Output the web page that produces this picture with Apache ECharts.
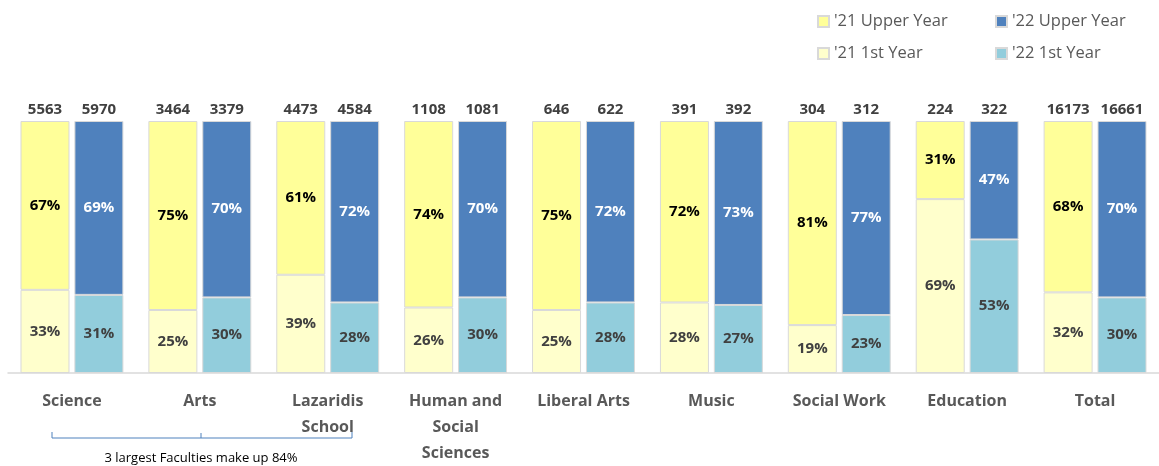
<!DOCTYPE html>
<html>
<head>
<meta charset="utf-8">
<script src="https://cdn.jsdelivr.net/npm/echarts@6/dist/echarts.min.js"></script>
<style>
html,body{margin:0;padding:0;background:#fff;}
#c{width:1159px;height:466px;}
</style>
</head>
<body>
<div id="c"></div>
<script>
const categories = ['Science', 'Arts', 'Lazaridis\nSchool', 'Human and\nSocial\nSciences', 'Liberal Arts', 'Music', 'Social Work', 'Education', 'Total'];
const first21 = [33, 25, 39, 26, 25, 28, 19, 69, 32];
const upper21 = [67, 75, 61, 74, 75, 72, 81, 31, 68];
const first22 = [31, 30, 28, 30, 28, 27, 23, 53, 30];
const upper22 = [69, 70, 72, 70, 72, 73, 77, 47, 70];
const totals21 = [5563, 3464, 4473, 1108, 646, 391, 304, 224, 16173];
const totals22 = [5970, 3379, 4584, 1081, 622, 392, 312, 322, 16661];

const FONT = '"Open Sans", "Liberation Sans", sans-serif';
const C_UP21 = '#FFFF99', C_1ST21 = '#FFFFCC', C_UP22 = '#4F81BD', C_1ST22 = '#92CDDC';

const chart = echarts.init(document.getElementById('c'));

function pctLabel(color) {
  return { show: true, position: 'inside', formatter: '{c}%', color: color, fontFamily: FONT, fontWeight: 'bold', fontSize: 15 };
}
function totalSeries(stack, arr) {
  return {
    type: 'bar', stack: stack, name: 'tot' + stack, data: arr.map(() => 0), barWidth: 49, barGap: '10%',
    itemStyle: { color: 'transparent', borderWidth: 0 },
    label: { show: true, position: 'top', distance: 4, formatter: p => arr[p.dataIndex], color: '#404040', fontFamily: FONT, fontWeight: 'bold', fontSize: 15 },
    silent: true
  };
}
function legend(name, left, top) {
  return {
    data: [name], left: left, top: top, icon: 'rect', itemWidth: 11, itemHeight: 11, itemGap: 8,
    textStyle: { color: '#595959', fontFamily: FONT, fontSize: 16.5 }, selectedMode: false
  };
}

chart.setOption({
  animation: false,
  backgroundColor: '#fff',
  legend: [
    legend("'21 Upper Year", 812, 8),
    legend("'22 Upper Year", 990, 8),
    legend("'21 1st Year", 812, 40),
    legend("'22 1st Year", 990, 40)
  ],
  grid: { left: 8, right: -4, top: 121, bottom: 93, containLabel: false },
  xAxis: {
    type: 'category', data: categories,
    axisLine: { lineStyle: { color: '#d9d9d9', width: 1.5 } },
    axisTick: { show: false },
    axisLabel: { interval: 0, margin: 15, color: '#595959', fontFamily: FONT, fontWeight: 'bold', fontSize: 16, lineHeight: 26, verticalAlign: 'top' }
  },
  yAxis: { type: 'value', min: 0, max: 100, show: false, splitLine: { show: false } },
  series: [
    { type: 'bar', name: "'21 1st Year", stack: 'a', data: first21, barWidth: 49, barGap: '10%',
      itemStyle: { color: C_1ST21, borderColor: '#d9d9d9', borderWidth: 1 }, label: pctLabel('#404040') },
    { type: 'bar', name: "'21 Upper Year", stack: 'a', data: upper21, barWidth: 49, barGap: '10%',
      itemStyle: { color: C_UP21, borderColor: '#d9d9d9', borderWidth: 1 }, label: pctLabel('#000000') },
    totalSeries('a', totals21),
    { type: 'bar', name: "'22 1st Year", stack: 'b', data: first22, barWidth: 49, barGap: '10%',
      itemStyle: { color: C_1ST22, borderColor: '#d9d9d9', borderWidth: 1 }, label: pctLabel('#404040') },
    { type: 'bar', name: "'22 Upper Year", stack: 'b', data: upper22, barWidth: 49, barGap: '10%',
      itemStyle: { color: C_UP22, borderColor: '#d9d9d9', borderWidth: 1 }, label: pctLabel('#ffffff') },
    totalSeries('b', totals22)
  ],
  graphic: [
    { type: 'polyline', shape: { points: [[52, 432], [52, 438], [352, 438], [352, 432]] }, style: { stroke: '#4F81BD', lineWidth: 1, fill: null } },
    { type: 'line', shape: { x1: 201, y1: 433, x2: 201, y2: 438 }, style: { stroke: '#4F81BD', lineWidth: 1 } },
    { type: 'text', x: 201, y: 458, style: { text: '3 largest Faculties make up 84%', fill: '#000', font: '13px ' + FONT, textAlign: 'center', textVerticalAlign: 'middle' } }
  ]
});
</script>
</body>
</html>
